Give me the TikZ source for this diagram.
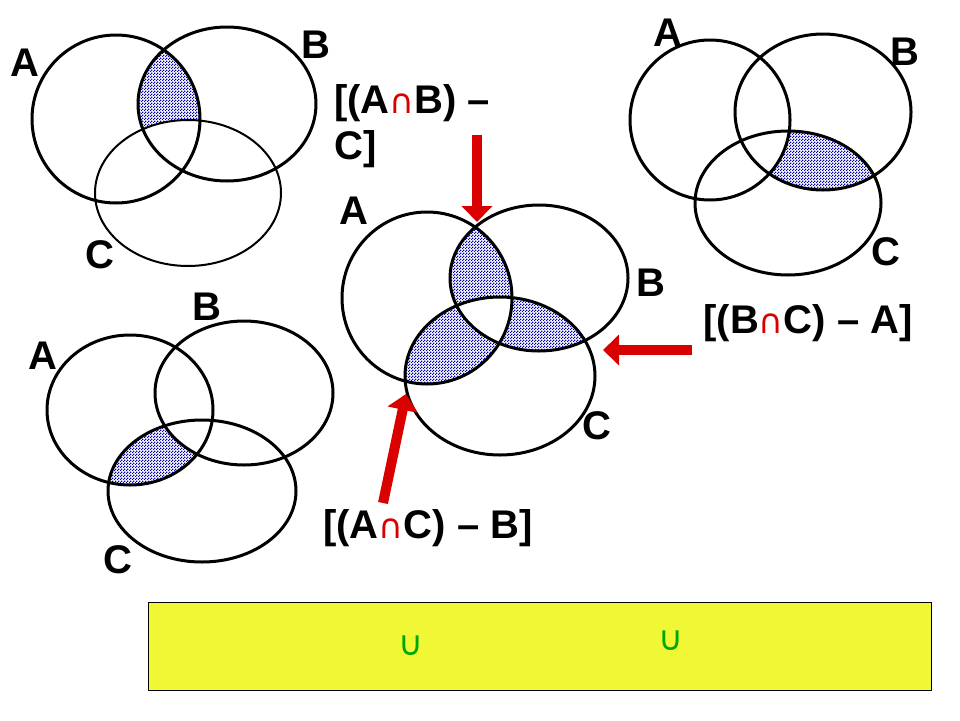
\documentclass[tikz,border=0pt]{standalone}
\usepackage{fontspec}
\setmainfont{Liberation Sans}
\newfontfamily\symbolfont{DejaVu Sans}
\usetikzlibrary{patterns,arrows.meta}

\pgfdeclarepatternformonly{finedots}{\pgfpointorigin}{\pgfqpoint{3pt}{3pt}}{\pgfqpoint{3pt}{3pt}}{
  \pgfpathrectangle{\pgfqpoint{0pt}{0pt}}{\pgfqpoint{1.6pt}{1.6pt}}
  \pgfpathrectangle{\pgfqpoint{1.5pt}{1.5pt}}{\pgfqpoint{1.6pt}{1.6pt}}
  \pgfusepath{fill}
}
\definecolor{boxyellow}{RGB}{240,247,52}

\tikzset{
  setline/.style={line width=3pt},
  shade/.style={pattern=finedots, pattern color=blue!70!black},
  lbl/.style={font=\fontsize{40}{46}\selectfont\bfseries, inner sep=0pt},
  redarrow/.style={draw=red!85!black, line width=10pt,
    -{Triangle[length=16pt,width=30pt]}},
  cupsym/.style={text=green!65!black, font=\symbolfont\fontsize{34}{34}\selectfont},
}
\newcommand{\capsym}{\textcolor{red!85!black}{\symbolfont\mdseries\fontsize{34}{34}\selectfont ∩}}

\begin{document}
\begin{tikzpicture}[x=1pt,y=-1pt]
      \useasboundingbox (0,0) rectangle (960,720);

      % top left: (A and B) - C
      \begin{scope}
        \clip (116,119) ellipse [x radius=84, y radius=84];
        \clip (227,104) ellipse [x radius=89, y radius=77];
        \fill[shade, even odd rule] (0,0) rectangle (960,720) (188,193) ellipse [x radius=93, y radius=73];
      \end{scope}
      \draw[setline] (116,119) ellipse [x radius=84, y radius=84];
      \draw[setline] (227,104) ellipse [x radius=89, y radius=77];
      \draw[line width=2pt] (188,193) ellipse [x radius=93, y radius=73];
      \node[lbl] (tlA) at (25,63) {A};
      \node[lbl] (tlB) at (316,45) {B};
      \node[lbl] (tlC) at (100,255) {C};

      % top right: (B and C) - A
      \begin{scope}
        \clip (823,112) ellipse [x radius=88, y radius=78];
        \clip (788,203) ellipse [x radius=93, y radius=72];
        \fill[shade, even odd rule] (0,0) rectangle (960,720) (710,120) ellipse [x radius=80, y radius=80];
      \end{scope}
      \draw[setline] (710,120) ellipse [x radius=80, y radius=80];
      \draw[setline] (823,112) ellipse [x radius=88, y radius=78];
      \draw[setline] (788,203) ellipse [x radius=93, y radius=72];
      \node[lbl] (trA) at (668,33) {A};
      \node[lbl] (trB) at (905,52) {B};
      \node[lbl] (trC) at (886,252) {C};

      % bottom left: (A and C) - B
      \begin{scope}
        \clip (130,410) ellipse [x radius=83, y radius=75];
        \clip (202,491) ellipse [x radius=94, y radius=71];
        \fill[shade, even odd rule] (0,0) rectangle (960,720) (244,393) ellipse [x radius=89, y radius=72];
      \end{scope}
      \draw[setline] (130,410) ellipse [x radius=83, y radius=75];
      \draw[setline] (244,393) ellipse [x radius=89, y radius=72];
      \draw[setline] (202,491) ellipse [x radius=94, y radius=71];
      \node[lbl] (blA) at (43,356) {A};
      \node[lbl] (blB) at (207,307) {B};
      \node[lbl] (blC) at (118,560) {C};

      % centre: all three pairs
      \begin{scope}
        \clip (427,298) ellipse [x radius=85, y radius=86];
        \clip (539,278) ellipse [x radius=89, y radius=73];
        \fill[shade, even odd rule] (0,0) rectangle (960,720) (500,376) ellipse [x radius=95, y radius=79];
      \end{scope}
      \begin{scope}
        \clip (539,278) ellipse [x radius=89, y radius=73];
        \clip (500,376) ellipse [x radius=95, y radius=79];
        \fill[shade, even odd rule] (0,0) rectangle (960,720) (427,298) ellipse [x radius=85, y radius=86];
      \end{scope}
      \begin{scope}
        \clip (427,298) ellipse [x radius=85, y radius=86];
        \clip (500,376) ellipse [x radius=95, y radius=79];
        \fill[shade, even odd rule] (0,0) rectangle (960,720) (539,278) ellipse [x radius=89, y radius=73];
      \end{scope}
      \draw[setline] (427,298) ellipse [x radius=85, y radius=86];
      \draw[setline] (539,278) ellipse [x radius=89, y radius=73];
      \draw[setline] (500,376) ellipse [x radius=95, y radius=79];
      \node[lbl] (cA) at (354,211) {A};
      \node[lbl] (cB) at (651,283) {B};
      \node[lbl] (cC) at (597,426) {C};

      % labels and arrows
      \node[lbl, align=left, anchor=north west] (labAB) at (334,84) {[(A\capsym B) --\\C]};
      \node[lbl] (labBC) at (808,323) {[(B\capsym C) -- A]};
      \node[lbl] (labAC) at (428,528) {[(A\capsym C) -- B]};
      \coordinate (tailAB) at (477,135);
      \coordinate (tipAB) at (477,222);
      \coordinate (tailBC) at (692,350);
      \coordinate (tipBC) at (603,350);
      \coordinate (tailAC) at (383,503);
      \coordinate (tipAC) at (406,394);
      \draw[redarrow] (tailAB) -- (tipAB);
      \draw[redarrow] (tailBC) -- (tipBC);
      \draw[redarrow] (tailAC) -- (tipAC);

      % yellow box
      \node[draw=black, line width=1pt, fill=boxyellow, minimum width=783, minimum height=88, anchor=north west, inner sep=0pt] (box) at (148,602) {};
      \node[cupsym] (cup1) at (411,646) {∪};
      \node[cupsym] (cup2) at (671,641) {∪};
\end{tikzpicture}
\end{document}
